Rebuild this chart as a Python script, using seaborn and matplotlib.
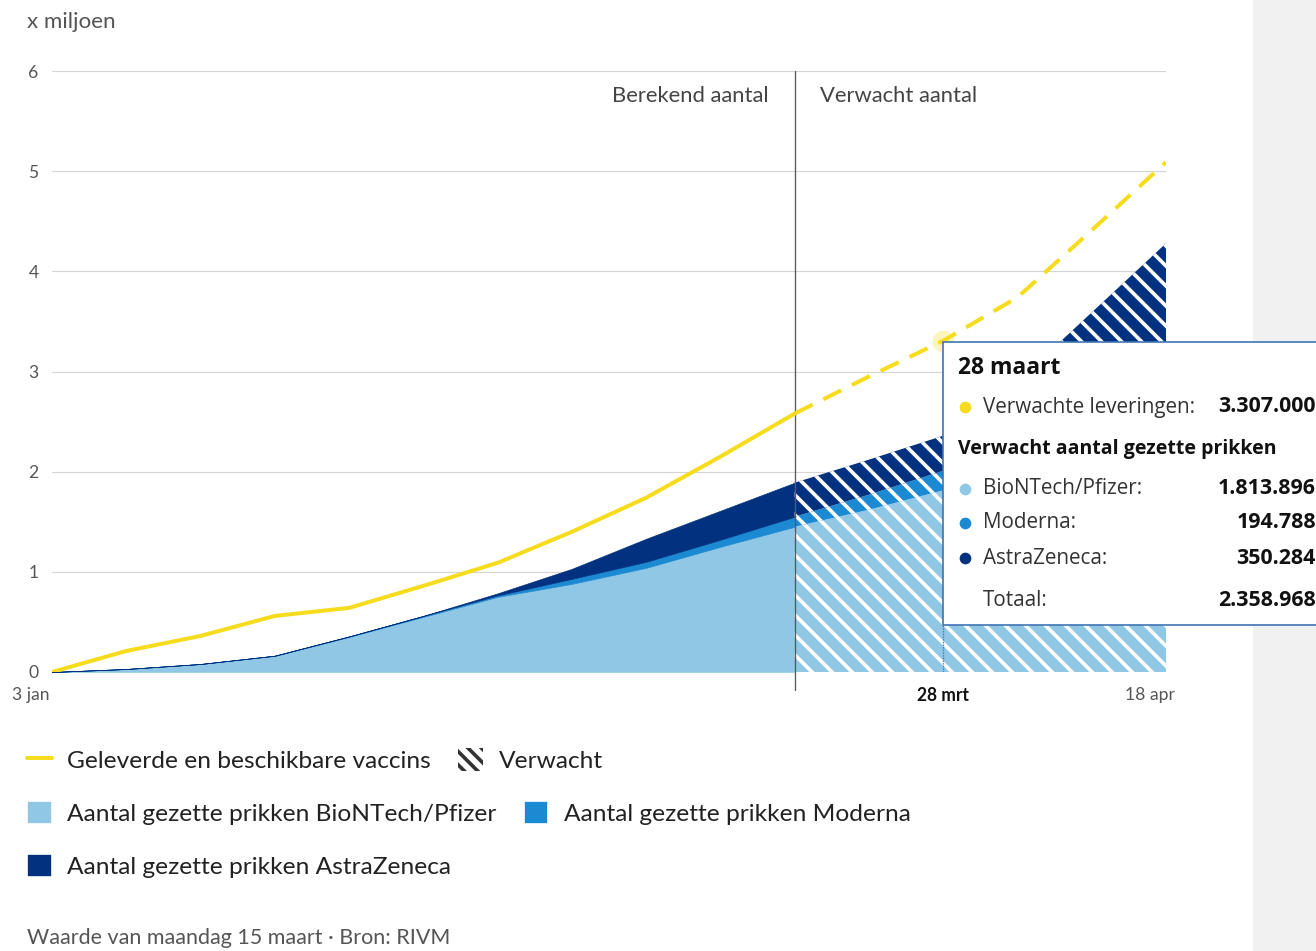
import matplotlib
matplotlib.use('Agg')
import matplotlib.pyplot as plt
from matplotlib.patches import Patch, Rectangle
from matplotlib.lines import Line2D
from matplotlib.transforms import ScaledTranslation
import seaborn as sns
import pandas as pd

# weekly values, x miljoen
week_dates = ['2021-01-03', '2021-01-10', '2021-01-17', '2021-01-24', '2021-01-31',
              '2021-02-07', '2021-02-14', '2021-02-21', '2021-02-28', '2021-03-07',
              '2021-03-14', '2021-03-21', '2021-03-28', '2021-04-04', '2021-04-11',
              '2021-04-18']
delivered = [0, 0.21, 0.36, 0.56, 0.64, 0.86, 1.09, 1.40, 1.74, 2.15, 2.58,
             2.95, 3.307, 3.74, 4.41, 5.09]
pfizer = [0, 0.03, 0.08, 0.16, 0.35, 0.55, 0.75, 0.88, 1.04, 1.25, 1.45,
          1.62, 1.813896, 2.10, 2.45, 2.85]
moderna = [0, 0, 0, 0.003, 0.005, 0.01, 0.015, 0.05, 0.06, 0.07, 0.10,
           0.15, 0.194788, 0.23, 0.26, 0.30]
astrazeneca = [0, 0, 0, 0, 0, 0, 0.02, 0.10, 0.23, 0.29, 0.34,
               0.35, 0.350284, 0.57, 0.88, 1.13]

split_date = '2021-03-14'
tip_date = '2021-03-28'
y_ticks = [0, 1, 2, 3, 4, 5, 6]
x_tick_dates = ['2021-01-03', '2021-03-28', '2021-04-18']
x_tick_labels = ['3 jan', '28 mrt', '18 apr']

legend_labels = ['Geleverde en beschikbare vaccins', 'Verwacht',
                 'Aantal gezette prikken BioNTech/Pfizer', 'Aantal gezette prikken Moderna',
                 'Aantal gezette prikken AstraZeneca']

tip_title = '28 maart'
tip_subtitle = 'Verwacht aantal gezette prikken'
tip_labels = ['Verwachte leveringen:', 'BioNTech/Pfizer:', 'Moderna:', 'AstraZeneca:', 'Totaal:']
tip_values = ['3.307.000', '1.813.896', '194.788', '350.284', '2.358.968']

YELLOW = '#f6dc1c'
C_PFIZER = '#8fc7e5'
C_MODERNA = '#1c89d3'
C_AZ = '#02327f'
GREY_TXT = '#555555'

W, H, DPI = 1316, 951, 120


def main():
    sns.set_style('white')
    plt.rcParams['font.family'] = ['Lato', 'DejaVu Sans']
    plt.rcParams['hatch.color'] = 'white'
    plt.rcParams['hatch.linewidth'] = 2.2

    df = pd.DataFrame({'date': pd.to_datetime(week_dates), 'delivered': delivered,
                       'pfizer': pfizer, 'moderna': moderna, 'az': astrazeneca})
    df['c1'] = df['pfizer']
    df['c2'] = df['c1'] + df['moderna']
    df['c3'] = df['c2'] + df['az']
    split = pd.Timestamp(split_date)
    tip = pd.Timestamp(tip_date)
    actual = df[df['date'] <= split]
    expected = df[df['date'] >= split]

    fig = plt.figure(figsize=(W / DPI, H / DPI), dpi=DPI)
    # grey side panel of the web page
    fig.add_artist(Rectangle((1253 / W, 0), (W - 1253) / W, 1, transform=fig.transFigure,
                             facecolor='#f1f1f1', edgecolor='none', zorder=-1))
    ax = fig.add_axes([52 / W, 1 - 672 / H, (1166 - 52) / W, (672 - 71) / H])
    ax.patch.set_alpha(0)

    # stacked areas, solid for computed and hatched for expected
    layers = [(None, 'c1', C_PFIZER), ('c1', 'c2', C_MODERNA), ('c2', 'c3', C_AZ)]
    for lo, hi, col in layers:
        low = actual[lo] if lo else 0
        ax.fill_between(actual['date'], low, actual[hi], facecolor=col, edgecolor=col, lw=0.4, zorder=2)
        low = expected[lo] if lo else 0
        ax.fill_between(expected['date'], low, expected[hi], facecolor=col, edgecolor='white',
                        lw=0, hatch='\\\\', zorder=2)

    sns.lineplot(data=actual, x='date', y='delivered', color=YELLOW, lw=2.4, ax=ax, zorder=4)
    sns.lineplot(data=expected, x='date', y='delivered', color=YELLOW, lw=2.4,
                 linestyle=(0, (5, 3)), ax=ax, zorder=4)

    tip_val = df.loc[df['date'] == tip, 'delivered'].iloc[0]
    ax.scatter([tip], [tip_val], s=170, color=YELLOW, alpha=0.3, lw=0, zorder=5)
    ax.vlines(tip, 0, tip_val, colors='#3b73b9', linestyles=(0, (1, 1)), lw=0.8, zorder=3)

    ax.axvline(split, ymin=-0.03, ymax=1, color='#5a5a5a', lw=0.8, clip_on=False, zorder=3)
    ax.annotate('Berekend aantal', xy=(split, 6), xytext=(-26, -25), textcoords='offset pixels',
                ha='right', va='center', fontsize=13.2, color='#444444')
    ax.annotate('Verwacht aantal', xy=(split, 6), xytext=(25, -25), textcoords='offset pixels',
                ha='left', va='center', fontsize=13.2, color='#444444')

    ax.set_xlim(df['date'].iloc[0], df['date'].iloc[-1])
    ax.set_ylim(0, 6)
    ax.set_yticks(y_ticks)
    ax.set_yticklabels([str(v) for v in y_ticks])
    ax.set_xticks(pd.to_datetime(x_tick_dates))
    ax.set_xticklabels(x_tick_labels)
    ax.grid(axis='y', color='#d5d5d5', lw=0.7)
    ax.grid(axis='x', visible=False)
    ax.set_axisbelow(True)
    ax.set_xlabel('')
    ax.set_ylabel('')
    for s in ax.spines.values():
        s.set_visible(False)
    ax.tick_params(axis='y', length=0, pad=8, labelsize=10.5, labelcolor=GREY_TXT)
    ax.tick_params(axis='x', length=0, pad=9, labelsize=10.5, labelcolor=GREY_TXT)

    shifts = [-21, 0, -16]
    for lab, dx in zip(ax.get_xticklabels(), shifts):
        lab.set_transform(lab.get_transform() + ScaledTranslation(dx / DPI, 0, fig.dpi_scale_trans))
    ax.get_xticklabels()[1].set_fontweight('bold')
    ax.get_xticklabels()[1].set_color('#111111')

    fig.text(27 / W, 1 - 22 / H, 'x miljoen', fontsize=13.4, color=GREY_TXT, va='center')

    # legend rows
    handles = [Line2D([0], [0], color=YELLOW, lw=2.4),
               Patch(facecolor='white', edgecolor='#333333', hatch='\\\\\\', lw=0),
               Patch(facecolor=C_PFIZER), Patch(facecolor=C_MODERNA), Patch(facecolor=C_AZ)]
    rows = [(slice(0, 2), 760), (slice(2, 4), 813), (slice(4, 5), 866)]
    for sl, ypx in rows:
        leg = fig.legend(handles[sl], legend_labels[sl], loc='center left',
                         bbox_to_anchor=(27 / W, 1 - ypx / H), ncol=2, frameon=False,
                         fontsize=14.7, borderpad=0, borderaxespad=0,
                         handlelength=1.0, handleheight=1.1, handletextpad=0.65,
                         columnspacing=1.1)
        for t in leg.get_texts():
            t.set_color('#222222')

    fig.text(27 / W, 1 - 938 / H, 'Waarde van maandag 15 maart \u00b7 Bron: RIVM',
             fontsize=12.9, color=GREY_TXT, va='center')

    # tooltip
    fig.add_artist(Rectangle((943 / W, 1 - 625 / H), (W - 943 + 10) / W, (625 - 342) / H,
                             transform=fig.transFigure, facecolor='white',
                             edgecolor='#3f74b5', lw=1.0, zorder=10))
    tfont = ['Open Sans', 'DejaVu Sans']
    fig.text(958 / W, 1 - 368 / H, tip_title, fontsize=13.7, fontweight='bold', family=tfont,
             color='#111111', va='center', zorder=11)
    fig.text(958 / W, 1 - 449 / H, tip_subtitle, fontsize=11.7, fontweight='bold', family=tfont,
             color='#111111', va='center', zorder=11)
    row_y = [407, 489, 523, 558, 600]
    row_col = [YELLOW, C_PFIZER, C_MODERNA, C_AZ, None]
    for lab, val, ypx, col in zip(tip_labels, tip_values, row_y, row_col):
        yf = 1 - ypx / H
        if col:
            fig.add_artist(Line2D([965 / W], [yf], marker='o', markersize=6, color=col, lw=0,
                                  transform=fig.transFigure, zorder=11))
        fig.text(983 / W, yf, lab, fontsize=12.4, family=tfont, color='#333333',
                 va='center', zorder=11)
        fig.text(1316 / W, yf, val, fontsize=12.8, fontweight='bold', family=tfont,
                 color='#111111', va='center', ha='right', zorder=11)

    fig.savefig('out.png', dpi=DPI)


if __name__ == '__main__':
    main()
